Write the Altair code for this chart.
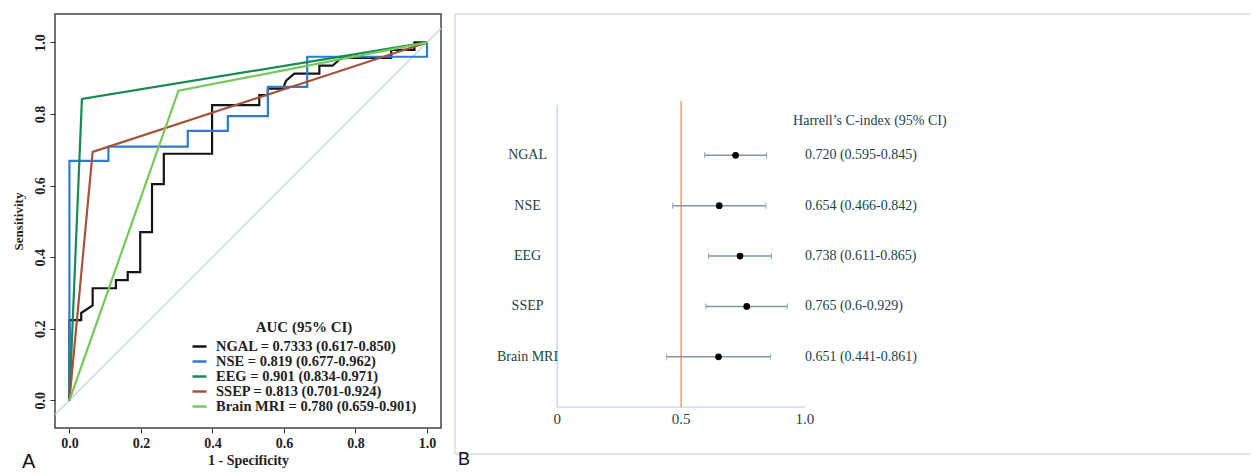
import altair as alt
import pandas as pd

# ---------------- Panel A: ROC curves ----------------
ngal_x = [0, 0, 0.033, 0.033, 0.065, 0.065, 0.130, 0.130, 0.163, 0.163, 0.198, 0.198,
          0.231, 0.231, 0.264, 0.264, 0.399, 0.399, 0.531, 0.531, 0.555, 0.555, 0.597,
          0.606, 0.629, 0.699, 0.699, 0.736, 0.760, 0.900, 0.900, 0.965, 0.965, 1.0]
ngal_y = [0, 0.224, 0.224, 0.244, 0.265, 0.313, 0.313, 0.336, 0.336, 0.358, 0.358, 0.470,
          0.470, 0.604, 0.604, 0.689, 0.689, 0.825, 0.825, 0.853, 0.853, 0.871, 0.871,
          0.893, 0.913, 0.913, 0.935, 0.935, 0.957, 0.957, 0.979, 0.979, 1.0, 1.0]
nse_x = [0, 0, 0.109, 0.109, 0.331, 0.331, 0.443, 0.443, 0.555, 0.555, 0.665, 0.665, 1.0, 1.0]
nse_y = [0, 0.669, 0.669, 0.709, 0.709, 0.753, 0.753, 0.794, 0.794, 0.876, 0.876, 0.960, 0.960, 1.0]
eeg_x = [0, 0.035, 1.0]
eeg_y = [0, 0.842, 1.0]
ssep_x = [0, 0.065, 1.0]
ssep_y = [0, 0.694, 1.0]
mri_x = [0, 0.305, 1.0]
mri_y = [0, 0.865, 1.0]

series_labels = [
    "NGAL = 0.7333 (0.617-0.850)",
    "NSE = 0.819 (0.677-0.962)",
    "EEG = 0.901 (0.834-0.971)",
    "SSEP = 0.813 (0.701-0.924)",
    "Brain MRI = 0.780 (0.659-0.901)",
]
series_colors = ["#151515", "#2f7bd2", "#168a50", "#a5523b", "#74c95a"]
roc_ticks = [0, 0.2, 0.4, 0.6, 0.8, 1.0]

# ---------------- Panel B: forest plot ----------------
markers = ["NGAL", "NSE", "EEG", "SSEP", "Brain MRI"]
cindex = [0.720, 0.654, 0.738, 0.765, 0.651]
ci_low = [0.595, 0.466, 0.611, 0.600, 0.441]
ci_high = [0.845, 0.842, 0.865, 0.929, 0.861]
ci_text = ["0.720 (0.595-0.845)", "0.654 (0.466-0.842)", "0.738 (0.611-0.865)",
           "0.765 (0.6-0.929)", "0.651 (0.441-0.861)"]
forest_ticks = [0, 0.5, 1.0]
forest_tick_labels = ["0", "0.5", "1.0"]

SERIF = "Liberation Serif"
SANS = "Liberation Sans"

rows = []
for name, xs, ys in zip(series_labels,
                        [ngal_x, nse_x, eeg_x, ssep_x, mri_x],
                        [ngal_y, nse_y, eeg_y, ssep_y, mri_y]):
    for i, (xv, yv) in enumerate(zip(xs, ys)):
        rows.append({"series": name, "fpr": xv, "tpr": yv, "order": i})
roc_df = pd.DataFrame(rows)

A_W, A_H = 386, 414
xA = alt.Scale(domain=[-0.0403, 1.0392], nice=False, zero=False)
yA = alt.Scale(domain=[-0.0775, 1.0795], nice=False, zero=False)

x_axis_A = alt.Axis(values=roc_ticks, format=".1f", title="1 - Specificity", grid=False,
                    domain=False, tickSize=5, tickColor="#333", labelPadding=3,
                    labelFont=SERIF, labelFontSize=14, labelFontWeight="bold",
                    labelColor="#222", titleFont=SERIF, titleFontSize=14,
                    titleFontWeight="bold", titleColor="#222", titlePadding=3)
y_axis_A = alt.Axis(values=roc_ticks, format=".1f", title="Sensitivity", grid=False,
                    domain=False, tickSize=5, tickColor="#333", labelPadding=3,
                    labelAngle=270, labelAlign="center", labelBaseline="bottom",
                    labelFont=SERIF, labelFontSize=14, labelFontWeight="bold",
                    labelColor="#222", titleFont=SERIF, titleFontSize=13,
                    titleFontWeight="bold", titleColor="#222", titlePadding=8)

diag_df = pd.DataFrame({"fpr": [-0.2, 1.2], "tpr": [-0.2, 1.2]})
diag = alt.Chart(diag_df).mark_line(color="#bcd3df", strokeWidth=1.2, clip=True).encode(
    x=alt.X("fpr:Q", scale=xA, axis=x_axis_A),
    y=alt.Y("tpr:Q", scale=yA, axis=y_axis_A),
)

curves = alt.Chart(roc_df).mark_line(strokeWidth=2.2, clip=True).encode(
    x=alt.X("fpr:Q", scale=xA),
    y=alt.Y("tpr:Q", scale=yA),
    order="order:Q",
    color=alt.Color(
        "series:N",
        scale=alt.Scale(domain=series_labels, range=series_colors),
        legend=alt.Legend(
            title="AUC (95% CI)", orient="none", legendX=136, legendY=306,
            symbolType="stroke", symbolSize=196, symbolStrokeWidth=2.5,
            labelFont=SERIF, labelFontSize=14.5, labelFontWeight="bold", labelColor="#222",
            titleFont=SERIF, titleFontSize=15, titleFontWeight="bold", titleColor="#222",
            titleAnchor="middle", rowPadding=0, labelOffset=8, padding=0, labelLimit=0,
            titlePadding=3,
        ),
    ),
)

a_df = pd.DataFrame({"fpr": [-0.114], "tpr": [-0.19], "t": ["A"]})
a_label = alt.Chart(a_df).mark_text(font=SANS, fontSize=20, color="#111",
                                    align="center", baseline="alphabetic").encode(
    x=alt.X("fpr:Q", scale=xA), y=alt.Y("tpr:Q", scale=yA), text="t:N")

panelA = alt.layer(diag, curves, a_label).properties(
    width=A_W, height=A_H,
    view=alt.ViewBackground(stroke="#444", strokeWidth=1.5),
)

# ---------------- Panel B ----------------
B_W, B_H = 795, 440
xB = alt.Scale(domain=[-0.413, 2.797], nice=False, zero=False)
yB = alt.Scale(domain=[-1.807, 6.93], nice=False, zero=False, reverse=True)

forest_df = pd.DataFrame({
    "marker": markers,
    "row": list(range(1, len(markers) + 1)),
    "est": cindex, "lo": ci_low, "hi": ci_high, "txt": ci_text,
})
forest_df["lab_x"] = -0.12
forest_df["txt_x"] = 1.0

def bx(f):
    return alt.X(f, scale=xB, axis=None)

def by(f):
    return alt.Y(f, scale=yB, axis=None)

frame_col = "#dde5ea"
frame_top = alt.Chart(forest_df).mark_rule(color=frame_col, strokeWidth=1.5).encode(
    x=alt.value(0), x2=alt.value(B_W), y=alt.value(0))
frame_bot = alt.Chart(forest_df).mark_rule(color=frame_col, strokeWidth=1.5).encode(
    x=alt.value(0), x2=alt.value(B_W), y=alt.value(B_H))
frame_left = alt.Chart(forest_df).mark_rule(color=frame_col, strokeWidth=1.5).encode(
    x=alt.value(0), y=alt.value(0), y2=alt.value(B_H))

vaxis_df = pd.DataFrame({"x": [0.0], "y": [0.0], "y2": [6.0]})
vaxis = alt.Chart(vaxis_df).mark_rule(color="#c8d6df", strokeWidth=1.3).encode(
    x=bx("x:Q"), y=by("y:Q"), y2="y2:Q")
haxis_df = pd.DataFrame({"x": [0.0], "x2": [1.0], "y": [6.0]})
haxis = alt.Chart(haxis_df).mark_rule(color="#c8d6df", strokeWidth=1.3).encode(
    x=bx("x:Q"), x2="x2:Q", y=by("y:Q"))

ref_df = pd.DataFrame({"x": [0.5], "y": [-0.08], "y2": [6.0]})
ref = alt.Chart(ref_df).mark_rule(color="#f0a083", strokeWidth=1.6).encode(
    x=bx("x:Q"), y=by("y:Q"), y2="y2:Q")

ci = alt.Chart(forest_df).mark_rule(color="#7f98a6", strokeWidth=1.5).encode(
    x=bx("lo:Q"), x2="hi:Q", y=by("row:Q"))
cap_lo = alt.Chart(forest_df).mark_tick(color="#7f98a6", size=6, thickness=1.2,
                                        orient="vertical").encode(x=bx("lo:Q"), y=by("row:Q"))
cap_hi = alt.Chart(forest_df).mark_tick(color="#7f98a6", size=6, thickness=1.2,
                                        orient="vertical").encode(x=bx("hi:Q"), y=by("row:Q"))
pts = alt.Chart(forest_df).mark_circle(color="#000", size=45, opacity=1).encode(
    x=bx("est:Q"), y=by("row:Q"))

TXT_COL = "#1c3f4a"
left_lab = alt.Chart(forest_df).mark_text(font=SERIF, fontSize=14, color=TXT_COL,
                                          align="center", baseline="middle").encode(
    x=bx("lab_x:Q"), y=by("row:Q"), text="marker:N")
right_lab = alt.Chart(forest_df).mark_text(font=SERIF, fontSize=14, color=TXT_COL,
                                           align="left", baseline="middle").encode(
    x=bx("txt_x:Q"), y=by("row:Q"), text="txt:N")

header_df = pd.DataFrame({"x": [0.952], "y": [0.32], "t": ["Harrell\u2019s C-index (95% CI)"]})
header = alt.Chart(header_df).mark_text(font=SERIF, fontSize=14, color=TXT_COL,
                                        align="left", baseline="middle").encode(
    x=bx("x:Q"), y=by("y:Q"), text="t:N")

tick_df = pd.DataFrame({"x": forest_ticks, "t": forest_tick_labels, "y": [6.0] * 3})
tick_lab = alt.Chart(tick_df).mark_text(font=SERIF, fontSize=15, color=TXT_COL,
                                        align="center", baseline="top", dy=5).encode(
    x=bx("x:Q"), y=by("y:Q"), text="t:N")

b_df = pd.DataFrame({"x": [-0.401], "y": [7.15], "t": ["B"]})
b_label = alt.Chart(b_df).mark_text(font=SANS, fontSize=18, color="#111",
                                    align="left", baseline="alphabetic").encode(
    x=bx("x:Q"), y=by("y:Q"), text="t:N")

panelB = alt.layer(frame_top, frame_bot, frame_left, vaxis, haxis, ref, ci, cap_lo, cap_hi,
                   pts, left_lab, right_lab, header, tick_lab, b_label).properties(
    width=B_W, height=B_H,
    view=alt.ViewBackground(stroke="transparent", strokeWidth=0),
)

chart = alt.hconcat(panelA, panelB, spacing=12).properties(
    padding={"left": 3, "top": 5, "right": 0, "bottom": 0},
    background="white",
).configure_view(strokeWidth=0)

chart.save("out.html", embed_options={"renderer": "svg", "actions": False})
